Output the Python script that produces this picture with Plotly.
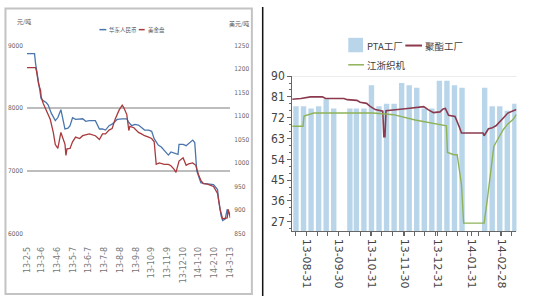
import plotly.graph_objects as go

# ---------------- left chart data ----------------
cny_dates = ["2013-02-05","2013-02-20","2013-02-22","2013-02-27","2013-03-05","2013-03-09","2013-03-15",
             "2013-03-19","2013-03-25","2013-04-02","2013-04-07","2013-04-13","2013-04-17","2013-04-21",
             "2013-04-27","2013-05-01","2013-05-06","2013-05-12","2013-05-26","2013-06-01","2013-06-08",
             "2013-06-20","2013-06-28","2013-07-04","2013-07-10","2013-07-17","2013-07-23","2013-08-02",
             "2013-08-12","2013-08-21","2013-08-25","2013-08-31","2013-09-06","2013-09-13","2013-09-19",
             "2013-09-25","2013-10-03","2013-10-09","2013-10-14","2013-10-22","2013-10-28","2013-11-03",
             "2013-11-11","2013-11-16","2013-11-22","2013-11-30","2013-12-02","2013-12-10","2013-12-16",
             "2013-12-21","2013-12-29","2014-01-02","2014-01-06","2014-01-08","2014-01-14","2014-01-19",
             "2014-02-08","2014-02-16","2014-02-18","2014-02-23","2014-02-26","2014-03-03","2014-03-07",
             "2014-03-09","2014-03-13"]
cny_price = [8870,8870,8720,8490,8150,8120,8090,
             8050,7920,7800,7850,7975,7830,7667,
             7680,7720,7846,7820,7830,7790,7800,
             7800,7667,7670,7650,7720,7744,7820,
             7830,7830,7770,7720,7740,7730,7690,
             7650,7650,7630,7513,7410,7380,7320,
             7250,7300,7280,7260,7420,7420,7400,
             7440,7490,7450,7000,6950,6810,6800,
             6780,6700,6540,6280,6205,6230,6385,
             6350,6300]

usd_dates = ["2013-02-05","2013-02-22","2013-02-24","2013-02-28","2013-03-04","2013-03-05","2013-03-09",
             "2013-03-15","2013-03-23","2013-03-29","2013-04-02","2013-04-07","2013-04-13","2013-04-21",
             "2013-04-23","2013-04-25","2013-05-01","2013-05-06","2013-05-12","2013-05-20","2013-05-26",
             "2013-06-08","2013-06-20","2013-06-28","2013-07-04","2013-07-10","2013-07-17","2013-07-23",
             "2013-07-29","2013-08-06","2013-08-12","2013-08-15","2013-08-21","2013-08-25","2013-08-27",
             "2013-09-04","2013-09-13","2013-09-19","2013-09-25","2013-10-03","2013-10-09","2013-10-14",
             "2013-10-18","2013-10-24","2013-11-03","2013-11-11","2013-11-16","2013-11-22","2013-11-26",
             "2013-12-02","2013-12-10","2013-12-16","2013-12-21","2013-12-29","2014-01-04","2014-01-10",
             "2014-01-14","2014-01-19","2014-01-27","2014-02-08","2014-02-16","2014-02-21","2014-02-26",
             "2014-03-07","2014-03-09","2014-03-13"]
usd_price = [1203,1203,1195,1168,1154,1141,1127,
             1113,1093,1065,1039,1031,1065,1040,
             1016,1030,1031,1045,1055,1052,1058,
             1062,1058,1050,1062,1062,1070,1073,
             1093,1113,1123,1118,1103,1069,1078,
             1075,1065,1062,1058,1055,1052,1045,
             997,1000,997,997,994,987,980,
             1004,1011,995,998,1000,995,973,
             963,956,955,950,935,901,881,
             883,901,883]

left_tick_dates = ["2013-02-05","2013-03-06","2013-04-06","2013-05-07","2013-06-07","2013-07-08","2013-08-08",
                   "2013-09-08","2013-10-09","2013-11-09","2013-12-10","2014-01-10","2014-02-10","2014-03-13"]
left_tick_text = ["13-2-5","13-3-6","13-4-6","13-5-7","13-6-7","13-7-8","13-8-8",
                  "13-9-8","13-10-9","13-11-9","13-12-10","14-1-10","14-2-10","14-3-13"]

# ---------------- right chart data ----------------
pta_week = ["2013-08-19","2013-08-26","2013-09-02","2013-09-09","2013-09-16","2013-09-23","2013-10-08",
            "2013-10-14","2013-10-21","2013-10-28","2013-11-04","2013-11-11","2013-11-18","2013-11-25",
            "2013-12-02","2013-12-09","2013-12-16","2013-12-23","2013-12-30","2014-01-06","2014-01-13",
            "2014-01-20","2014-02-10","2014-02-17","2014-02-24","2014-03-03","2014-03-10"]
pta_rate = [77,77,76,77,80,76,76,
            76,76,86,77,78,78,87,
            86,85,76,76,88,88,86,
            85,85,77,77,75,78]

polyester_dates = ["2013-08-18","2013-08-26","2013-09-04","2013-09-15","2013-09-18","2013-10-05","2013-10-08",
                   "2013-10-17","2013-10-20","2013-10-26","2013-10-29","2013-11-03","2013-11-10","2013-11-11",
                   "2013-11-12","2013-11-13","2013-12-03","2013-12-18","2013-12-22","2013-12-27","2014-01-02",
                   "2014-01-05","2014-01-07","2014-01-10","2014-01-16","2014-01-18","2014-01-20","2014-01-22",
                   "2014-02-11","2014-02-12","2014-02-16","2014-02-19","2014-02-23","2014-03-02","2014-03-06",
                   "2014-03-11","2014-03-14"]
polyester_rate = [80,80.3,81,81,80.3,80.3,79.8,
                  79.5,78.7,78.2,77,75.5,74.8,63.8,
                  63.8,75,76,76.8,75.5,74.2,74.5,
                  75.8,76,73,72.5,70.4,68,65.4,
                  65.4,64.2,67.2,67.5,68.5,72,74,
                  75,75.5]

loom_dates = ["2013-08-18","2013-08-28","2013-08-29","2013-09-07","2013-11-01","2013-11-20","2013-12-10",
              "2014-01-01","2014-01-08","2014-01-09","2014-01-15","2014-01-18","2014-01-21","2014-01-22",
              "2014-01-24","2014-02-12","2014-02-15","2014-02-18","2014-02-20","2014-02-21","2014-02-25",
              "2014-03-02","2014-03-06","2014-03-11","2014-03-14"]
loom_rate = [68.3,68.3,72.7,74,74,73.3,71,
             69,68.5,57,56,56,44.4,43,
             26.4,26.4,36.8,49,57.5,59.6,63,
             67,69.3,71.3,73.4]

right_tick_dates = ["2013-08-31","2013-09-30","2013-10-31","2013-11-30","2013-12-31","2014-01-31","2014-02-28"]
right_tick_text = ["13-08-31","13-09-30","13-10-31","13-11-30","13-12-31","14-01-31","14-02-28"]

# ---------------- figure ----------------
W, H = 550, 300
def px(x): return x / W
def py(y): return 1 - y / H

NARROW = "Liberation Sans Narrow, DejaVu Sans Condensed, sans-serif"
CJK = "Noto Sans CJK SC, sans-serif"
DAY = 86400000

fig = go.Figure()
fig.add_trace(go.Scatter(x=cny_dates, y=cny_price, mode="lines", name="华东人民币",
                         line=dict(color="#4a76ad", width=1.3), xaxis="x", yaxis="y"))
fig.add_trace(go.Scatter(x=usd_dates, y=usd_price, mode="lines", name="美金盘",
                         line=dict(color="#a83a3d", width=1.3), xaxis="x", yaxis="y2"))
fig.add_trace(go.Bar(x=pta_week, y=pta_rate, name="PTA工厂", width=5 * DAY, offset=0,
                     marker=dict(color="#b8d5ea", line=dict(width=0)), xaxis="x2", yaxis="y3"))
fig.add_trace(go.Scatter(x=polyester_dates, y=polyester_rate, mode="lines", name="聚酯工厂",
                         line=dict(color="#8b3a4e", width=1.6), xaxis="x2", yaxis="y3"))
fig.add_trace(go.Scatter(x=loom_dates, y=loom_rate, mode="lines", name="江浙织机",
                         line=dict(color="#8fb356", width=1.4), xaxis="x2", yaxis="y3"))

small = dict(family=NARROW, size=6.5, color="#666")
right_font = dict(family=NARROW, size=12, color="#444")

fig.update_layout(
    width=W, height=H, margin=dict(l=0, r=0, t=0, b=0),
    paper_bgcolor="white", plot_bgcolor="white", showlegend=False,
    xaxis=dict(domain=[px(23.3), px(230)], type="date", range=["2013-02-05", "2014-03-13"],
               tickmode="array", tickvals=left_tick_dates, ticktext=left_tick_text, tickangle=-90,
               showgrid=False, showline=False, zeroline=False, ticks="",
               tickfont=dict(family="DejaVu Sans", size=8, color="#777"),
               ticklabelstandoff=11, anchor="y"),
    yaxis=dict(domain=[py(235), py(40)], range=[6000, 9000], tickmode="array",
               tickvals=[6000, 7000, 8000, 9000], showgrid=True, gridcolor="#bdbdbd", gridwidth=1.5,
               zeroline=False, showline=False, ticks="", tickfont=small, ticklabelstandoff=3, anchor="x"),
    yaxis2=dict(overlaying="y", side="right", range=[850, 1250], tickmode="linear", tick0=850, dtick=50,
                showgrid=False, zeroline=False, showline=False, ticks="", tickfont=small,
                ticklabelstandoff=3, anchor="x"),
    xaxis2=dict(domain=[px(293), px(521)], type="date", range=["2013-08-18", "2014-03-14"],
                tickmode="array", tickvals=right_tick_dates, ticktext=right_tick_text, tickangle=90,
                ticks="outside", ticklen=4, tickcolor="#666", showline=True, linecolor="#666",
                linewidth=1, showgrid=False, zeroline=False,
                minor=dict(ticks="outside", ticklen=4, tickcolor="#666", dtick=10 * DAY, tick0="2013-08-21"),
                tickfont=dict(family="DejaVu Sans", size=11, color="#444"), anchor="y3"),
    yaxis3=dict(domain=[py(233), py(71.7)], range=[22.8, 90], tickmode="linear", tick0=0, dtick=9,
                ticks="outside", ticklen=4, tickcolor="#666", showline=True, linecolor="#666",
                linewidth=1, showgrid=False, zeroline=False,
                minor=dict(ticks="outside", ticklen=2, tickcolor="#666", dtick=3, tick0=0),
                tickfont=right_font, anchor="x2"),
    yaxis4=dict(overlaying="y3", side="right", range=[22.8, 90], tickmode="linear", tick0=0, dtick=9,
                ticks="outside", ticklen=4, tickcolor="#666", showline=True, linecolor="#666",
                linewidth=1, showgrid=False, zeroline=False,
                minor=dict(ticks="outside", ticklen=2, tickcolor="#666", dtick=3, tick0=0),
                tickfont=right_font, anchor="x2"),
)

shapes = [
    # left panel frame
    dict(type="rect", xref="paper", yref="paper", x0=px(1.5), x1=px(252), y0=py(298), y1=py(1.5),
         line=dict(color="#c3c3c3", width=2)),
    # separator
    dict(type="line", xref="paper", yref="paper", x0=px(263), x1=px(263), y0=0, y1=1,
         line=dict(color="#111", width=1.5)),
    # light top line of right plot
    dict(type="line", xref="x2 domain", yref="y3", x0=0, x1=1, y0=90, y1=90,
         line=dict(color="#dddddd", width=1)),
    # left legend glyphs
    dict(type="line", xref="paper", yref="paper", x0=px(97), x1=px(104), y0=py(23.5), y1=py(23.5),
         line=dict(color="#4a76ad", width=1.5)),
    dict(type="line", xref="paper", yref="paper", x0=px(137), x1=px(143), y0=py(23.5), y1=py(23.5),
         line=dict(color="#a83a3d", width=1.5)),
    # right legend glyphs
    dict(type="rect", xref="paper", yref="paper", x0=px(350), x1=px(365), y0=py(47), y1=py(32),
         fillcolor="#b8d5ea", line=dict(width=0)),
    dict(type="line", xref="paper", yref="paper", x0=px(408), x1=px(425), y0=py(40), y1=py(40),
         line=dict(color="#8b3a4e", width=2)),
    dict(type="line", xref="paper", yref="paper", x0=px(350), x1=px(366), y0=py(60), y1=py(60),
         line=dict(color="#8fb356", width=1.5)),
]
fig.update_layout(shapes=shapes)

def note(text, x, y, size, color="#555", family=CJK):
    return dict(text=text, xref="paper", yref="paper", x=px(x), y=py(y), xanchor="left",
                yanchor="middle", showarrow=False, font=dict(family=family, size=size, color=color))

fig.update_layout(annotations=[
    note("元/吨", 11, 15, 6),
    note("美元/吨", 227, 17, 6),
    note("华东人民币", 105, 23.5, 5.5),
    note("美金盘", 144, 23.5, 5.5),
    note("PTA工厂", 367, 40, 9.5, "#404040"),
    note("聚酯工厂", 426, 40, 9.5, "#404040"),
    note("江浙织机", 367, 60, 9.5, "#404040"),
])

fig.write_html("out.html")
